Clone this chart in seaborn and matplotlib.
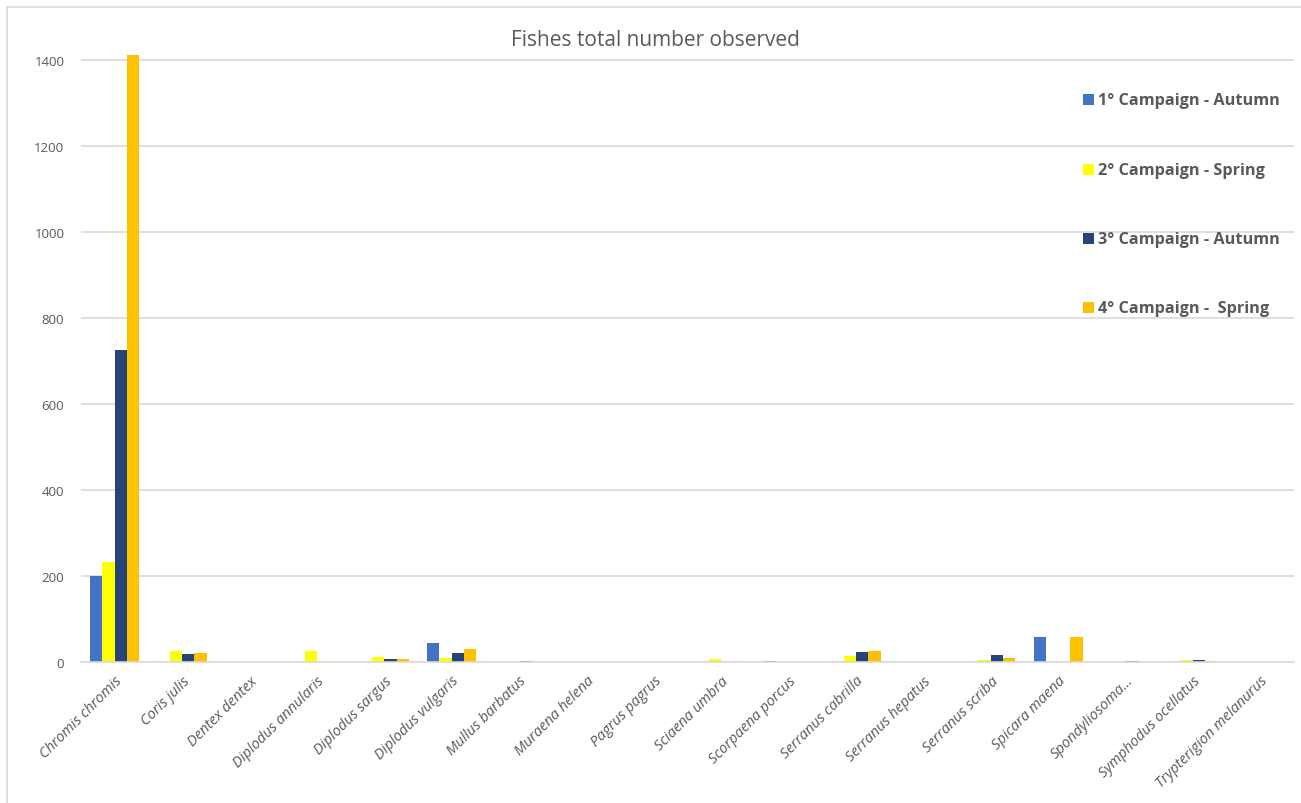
import matplotlib
matplotlib.use("Agg")
import matplotlib.pyplot as plt
import seaborn as sns
import pandas as pd
from matplotlib.lines import Line2D

species = ["Chromis chromis", "Coris julis", "Dentex dentex", "Diplodus annularis",
           "Diplodus sargus", "Diplodus vulgaris", "Mullus barbatus", "Muraena helena",
           "Pagrus pagrus", "Sciaena umbra", "Scorpaena porcus", "Serranus cabrilla",
           "Serranus hepatus", "Serranus scriba", "Spicara maena", "Spondyliosoma...",
           "Symphodus ocellatus", "Trypterigion melanurus"]
campaigns = ["1° Campaign - Autumn", "2° Campaign - Spring",
             "3° Campaign - Autumn", "4° Campaign -  Spring"]
camp1_autumn = [200, 0, 0, 0, 0, 45, 0, 1, 0, 0, 2, 0, 0, 0, 59, 0, 0, 0]
camp2_spring = [232, 25, 0, 25, 12, 10, 0, 1, 1, 8, 0, 15, 1, 4, 0, 1, 5, 0]
camp3_autumn = [726, 19, 0, 0, 8, 21, 2, 0, 0, 0, 0, 23, 0, 16, 0, 2, 4, 1]
camp4_spring = [1412, 22, 1, 1, 7, 30, 0, 0, 0, 0, 0, 26, 0, 10, 59, 0, 2, 1]
yticks = [0, 200, 400, 600, 800, 1000, 1200, 1400]

colors = ["#4472C4", "#FFFF00", "#264478", "#FFC000"]

rows = []
for camp, vals in zip(campaigns, [camp1_autumn, camp2_spring, camp3_autumn, camp4_spring]):
    for sp, v in zip(species, vals):
        rows.append({"Species": sp, "Campaign": camp, "Count": v})
df = pd.DataFrame(rows)

sns.set_style("white")
plt.rcParams['font.family'] = ['Open Sans', 'DejaVu Sans']

W, H = 1301, 804
fig = plt.figure(figsize=(W / 100, H / 100), dpi=100)
fig.patch.set_facecolor("white")

left_px, right_px = 81, 1294
base_px = 663
ppu = (663 - 61) / 1400.0
ytop = 1440
top_px = base_px - ytop * ppu
ax = fig.add_axes([left_px / W, 1 - base_px / H, (right_px - left_px) / W, (base_px - top_px) / H])

sns.barplot(data=df, x="Species", y="Count", hue="Campaign", order=species,
            hue_order=campaigns, palette=colors, width=0.73, gap=0,
            saturation=1, ax=ax, legend=False, linewidth=0)

ax.set_xlim(-0.5, len(species) - 0.5)
ax.set_ylim(0, ytop)
ax.set_yticks(yticks)
ax.set_yticklabels([str(t) for t in yticks], color="#595959", fontsize=9.5)
ax.yaxis.grid(True, color="#D9D9D9", linewidth=1.2)
ax.set_axisbelow(True)
for s in ["top", "right", "left"]:
    ax.spines[s].set_visible(False)
ax.spines["bottom"].set_color("#D9D9D9")
ax.spines["bottom"].set_linewidth(1.2)
ax.tick_params(axis="both", length=0)
ax.tick_params(axis="y", pad=12)
ax.set_xlabel("")
ax.set_ylabel("")
ax.set_xticks(range(len(species)))
ax.set_xticklabels(species, rotation=45, ha="right", rotation_mode="anchor",
                   style="italic", color="#595959", fontsize=10.5)
ax.tick_params(axis="x", pad=8)

fig.text(655 / W, 1 - 40 / H, "Fishes total number observed", ha="center", va="center",
         fontsize=15, color="#595959")

leg_y = [101, 171, 240, 309]
for lab, col, yy in zip(campaigns, colors, leg_y):
    fig.patches.append(plt.Rectangle((1083 / W, 1 - (yy + 5) / H), 11 / W, 11 / H,
                                     transform=fig.transFigure, facecolor=col,
                                     edgecolor="none", zorder=5))
    fig.text(1098 / W, 1 - yy / H, lab, ha="left", va="center", fontsize=11.7,
             fontweight="bold", color="#595959", zorder=6)

fig.add_artist(Line2D([7 / W, 1], [1 - 8 / H, 1 - 8 / H], transform=fig.transFigure,
                      color="#D9D9D9", linewidth=1.2))
fig.add_artist(Line2D([7 / W, 7 / W], [0, 1 - 8 / H], transform=fig.transFigure,
                      color="#D9D9D9", linewidth=1.2))

fig.savefig("out.png", dpi=100, facecolor="white")
